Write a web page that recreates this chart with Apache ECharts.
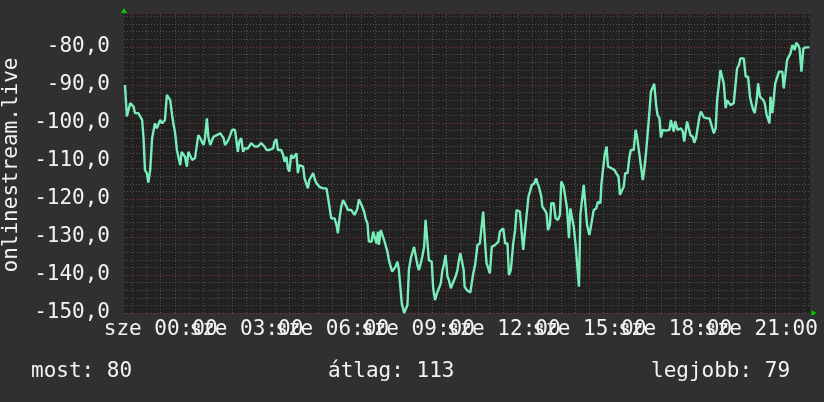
<!DOCTYPE html>
<html>
<head>
<meta charset="utf-8">
<script src="https://cdn.jsdelivr.net/npm/echarts@6/dist/echarts.min.js"></script>
<style>
html,body{margin:0;padding:0;background:#303030;}
#chart{width:824px;height:402px;}
</style>
</head>
<body>
<div id="chart"></div>
<script>
// ---- data (minutes relative to Wednesday 00:00) ----
const timeMinutes = [
-75,-71,-68,-64,-60,-57,-54,-47,-43,-39,-36,-33,-29,-26,-22,-18,-15,-12,-8,-5,-1,3,6,9,13,16,20,24,27,30,
34,37,41,44,48,51,55,58,62,66,69,72,76,79,83,87,90,93,97,100,104,108,111,118,125,129,132,135,139,142,
146,150,153,156,162,165,169,173,176,183,186,190,194,197,201,204,207,211,215,218,222,225,228,232,236,239,243,246,249,253,
257,260,264,267,270,274,278,281,285,288,291,295,299,302,306,309,312,316,320,323,327,330,333,337,341,344,348,351,354,358,
362,365,369,372,375,379,383,386,390,393,400,404,407,413,416,420,423,427,430,434,437,443,446,450,453,456,458,462,465,469,
472,476,479,482,486,490,493,497,500,504,506,511,514,518,521,525,528,532,535,539,542,546,549,553,556,560,563,569,572,576,
580,584,588,591,595,598,602,605,609,612,616,619,623,626,629,633,636,638,643,650,656,660,665,670,674,677,681,684,688,691,
695,702,709,712,716,719,723,728,731,735,740,744,747,754,758,761,765,768,772,775,779,784,788,791,794,799,801,806,810,813,
817,820,825,829,834,838,841,846,850,853,857,860,864,867,871,874,878,881,885,888,892,895,900,904,909,914,918,923,925,928,
932,936,939,946,953,956,961,964,968,972,975,980,984,987,993,997,1000,1005,1008,1012,1015,1019,1022,1026,1029,1033,1036,1040,1043,1047,
1050,1054,1061,1068,1071,1075,1077,1080,1085,1089,1092,1096,1099,1103,1105,1108,1112,1117,1120,1124,1127,1131,1134,1140,1147,1152,1158,1161,1165,1168,
1172,1175,1179,1182,1186,1189,1193,1196,1203,1207,1210,1214,1217,1221,1224,1228,1233,1237,1240,1244,1247,1251,1254,1258,1261,1265,1268,1272,1275,1278,
1280,1284,1287,1290,1294,1298,1301,1305,1308,1312,1315,1319,1322,1326,1329,1331,1334,1338,1341,1343,1345,1349,1354,1359,1362
];
const values = [
-90.0,-98.3,-98.3,-94.8,-94.4,-95.7,-97.4,-97.4,-98.3,-99.2,-104.0,-112.4,-113.2,-115.7,-112.4,-104.0,-103.6,-100.1,-101.4,-101.0,-99.2,-100.1,-99.6,-99.2,-92.6,-93.1,-94.0,-97.9,-100.5,-102.3,
-107.1,-107.6,-111.1,-107.6,-107.6,-108.9,-111.5,-107.6,-107.6,-109.7,-109.7,-109.3,-108.9,-103.2,-104.0,-104.5,-105.8,-104.0,-98.8,-103.6,-105.8,-104.5,-103.6,-103.2,-102.7,-103.2,-104.0,-105.8,-105.8,-104.5,
-104.0,-101.8,-101.4,-101.8,-107.6,-104.9,-104.0,-107.6,-106.7,-106.7,-106.2,-105.3,-105.3,-106.2,-106.7,-106.2,-105.8,-105.3,-105.8,-106.2,-107.1,-107.6,-107.1,-107.1,-106.7,-104.9,-104.3,-107.1,-107.6,-107.1,
-108.4,-110.2,-108.9,-111.9,-112.8,-108.4,-109.3,-108.9,-108.0,-113.2,-111.1,-111.1,-111.5,-114.6,-115.0,-117.2,-115.0,-114.6,-113.2,-114.6,-115.9,-115.9,-116.8,-116.4,-117.2,-117.2,-117.2,-119.4,-119.8,-125.1,
-125.5,-125.1,-126.8,-129.0,-125.5,-122.0,-120.3,-120.3,-122.0,-122.9,-122.9,-123.3,-124.2,-122.5,-120.1,-120.1,-122.0,-123.3,-125.1,-126.4,-131.2,-131.2,-128.6,-128.6,-131.7,-128.6,-132.1,-128.2,-128.2,-130.8,
-131.2,-133.9,-136.1,-137.4,-139.1,-139.1,-137.8,-136.5,-138.7,-138.7,-147.4,-150.0,-150.0,-147.9,-138.7,-135.6,-135.2,-132.6,-134.7,-137.4,-138.7,-136.9,-135.2,-132.6,-125.5,-126.0,-136.1,-136.5,-143.5,-146.6,
-144.8,-145.3,-142.2,-139.1,-136.9,-134.7,-140.4,-141.3,-143.5,-143.1,-141.3,-140.4,-138.7,-136.1,-134.3,-134.3,-138.7,-143.1,-144.0,-144.6,-139.6,-137.4,-132.1,-131.7,-131.2,-123.3,-131.7,-136.9,-137.4,-139.6,
-132.6,-132.1,-131.2,-128.6,-128.2,-127.7,-131.7,-131.7,-140.0,-138.7,-131.7,-128.2,-122.9,-123.3,-123.8,-133.4,-128.2,-127.7,-119.4,-118.1,-116.3,-115.9,-114.6,-115.9,-116.8,-119.4,-122.0,-122.9,-123.8,-128.2,
-126.8,-121.1,-121.1,-125.1,-125.5,-124.2,-115.4,-116.8,-116.8,-122.5,-130.3,-122.5,-122.5,-127.3,-132.1,-132.1,-143.1,-124.2,-124.6,-116.3,-116.8,-126.8,-129.5,-129.0,-122.9,-122.5,-120.7,-121.1,-116.3,-115.9,
-108.4,-106.2,-111.5,-111.9,-112.4,-113.2,-114.1,-118.9,-118.9,-116.8,-113.2,-113.2,-108.9,-107.1,-107.1,-101.8,-103.6,-108.4,-108.9,-115.0,-112.4,-107.6,-107.1,-97.0,-91.8,-91.4,-89.7,-95.3,-97.9,-98.8,
-103.8,-101.8,-102.0,-101.8,-99.2,-99.6,-102.3,-99.6,-101.8,-102.3,-101.4,-102.3,-104.9,-104.9,-99.6,-99.2,-103.2,-103.6,-105.2,-103.8,-103.6,-98.3,-97.0,-98.5,-98.8,-98.8,-101.4,-102.7,-101.4,-94.0,
-89.6,-86.1,-86.1,-89.6,-96.1,-94.0,-94.4,-95.3,-94.8,-94.4,-85.6,-84.7,-83.0,-82.8,-83.0,-87.8,-87.8,-93.1,-94.8,-96.6,-97.4,-94.0,-89.6,-93.1,-93.1,-94.0,-94.8,-97.9,-97.9,-100.1,
-93.1,-97.4,-97.4,-89.6,-89.2,-86.5,-86.1,-86.5,-90.9,-90.9,-83.4,-83.0,-81.7,-79.5,-79.5,-80.8,-78.9,-79.5,-80.4,-80.0,-86.5,-80.4,-80.1,-80.1,-80.1
];
const dayPrefix = 'sze';
const xLabelHours = [0, 3, 6, 9, 12, 15, 18, 21];
const yAxisTitle = 'onlinestream.live';
const summaryLabels = ['most', 'átlag', 'legjobb'];
const summaryValues = [80, 113, 79];

// ---- axis extents ----
const X_MIN = -77, X_MAX = 1363;
const Y_MIN = -150, Y_MAX = -71.2;

const FONT = 'DejaVu Sans Mono';
const TEXT = '#f2f2f2';
const MINOR = '#505050';
const MAJOR = '#7c3a3a';
const DOT = [1, 2];

const pad = n => (n < 10 ? '0' : '') + n;
const labelMinutes = xLabelHours.map(h => h * 60);
const labelsEven = labelMinutes.filter((m, i) => i % 2 === 0);
const labelsOdd = labelMinutes.filter((m, i) => i % 2 === 1);
const hourly = [], halfHourly = [];
for (let m = -60; m <= X_MAX; m += 30) { (m % 60 === 0 ? hourly : halfHourly).push(m); }

function gridLines(list, color) {
  return {
    type: 'line', xAxisIndex: 0, yAxisIndex: 0, data: [], z: 1, silent: true,
    markLine: {
      silent: true, symbol: ['none', 'none'], animation: false,
      label: {show: false},
      lineStyle: {color: color, type: DOT, width: 1},
      emphasis: {disabled: true},
      data: list.map(m => ({xAxis: m}))
    }
  };
}

function labelAxis(list, withArrow) {
  return {
    type: 'value', min: X_MIN, max: X_MAX, position: 'bottom',
    axisLine: withArrow
      ? {show: true, onZero: false, lineStyle: {color: '#00c800', width: 0}, symbol: ['none', 'triangle'], symbolSize: [6, 5], symbolOffset: [0, 4]}
      : {show: false, onZero: false},
    axisTick: {show: false},
    splitLine: {show: false},
    axisLabel: {
      customValues: list, showMinLabel: true, showMaxLabel: true, hideOverlap: false,
      margin: 6, color: TEXT, fontFamily: FONT, fontSize: 21,
      formatter: v => dayPrefix + ' ' + pad(Math.round(v / 60)) + ':00'
    }
  };
}

const chart = echarts.init(document.getElementById('chart'), null, {renderer: 'canvas'});
chart.setOption({
  animation: false,
  backgroundColor: '#303030',
  textStyle: {fontFamily: FONT},
  grid: {left: 124, right: 14, top: 13.5, bottom: 89, show: true, backgroundColor: '#212121', borderWidth: 0, outerBoundsMode: 'none'},
  xAxis: [labelAxis(labelsEven, true), labelAxis(labelsOdd, false)],
  yAxis: [
    {
      type: 'value', min: Y_MIN, max: Y_MAX, interval: 10, position: 'left', z: 3,
      axisLine: {show: true, onZero: false, lineStyle: {color: '#00c800', width: 0}, symbol: ['none', 'triangle'], symbolSize: [6, 5], symbolOffset: [0, 3]},
      axisTick: {show: false},
      splitLine: {show: true, lineStyle: {color: MAJOR, type: DOT, width: 1}},
      axisLabel: {
        margin: 14, color: TEXT, fontFamily: FONT, fontSize: 21, padding: [4, 0, 0, 0],
        formatter: v => (Math.abs(v % 10) < 1e-6 ? v.toFixed(1).replace('.', ',') : '')
      }
    },
    {
      type: 'value', min: Y_MIN, max: Y_MAX, interval: 2, z: 1,
      axisLine: {show: false, onZero: false}, axisLabel: {show: false}, axisTick: {show: false},
      splitLine: {show: true, lineStyle: {color: MINOR, type: DOT, width: 1}}
    }
  ],
  series: [
    gridLines(halfHourly, MINOR),
    gridLines(hourly, MAJOR),
    {
      type: 'line', xAxisIndex: 0, yAxisIndex: 0,
      data: timeMinutes.map((t, i) => [t, values[i]]),
      showSymbol: false, symbol: 'none',
      lineStyle: {color: '#79ecbb', width: 2.4},
      z: 5
    }
  ],
  graphic: [
    {type: 'text', x: 12, y: 165, rotation: Math.PI / 2,
     style: {text: yAxisTitle, fill: TEXT, font: '21px "' + FONT + '"', textAlign: 'center', textVerticalAlign: 'middle'}},
    {type: 'text', left: 31, top: 361,
     style: {text: summaryLabels[0] + ': ' + summaryValues[0], fill: TEXT, font: '21px "' + FONT + '"'}},
    {type: 'text', left: 328, top: 361,
     style: {text: summaryLabels[1] + ': ' + summaryValues[1], fill: TEXT, font: '21px "' + FONT + '"'}},
    {type: 'text', left: 651, top: 361,
     style: {text: summaryLabels[2] + ': ' + summaryValues[2], fill: TEXT, font: '21px "' + FONT + '"'}}
  ]
});
</script>
</body>
</html>
